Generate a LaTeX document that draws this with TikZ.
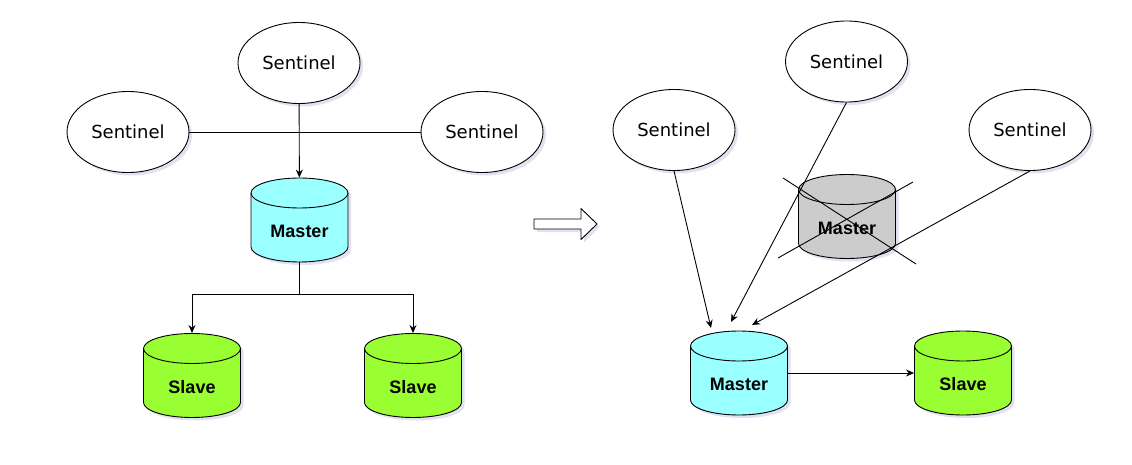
\documentclass[tikz,border=0pt]{standalone}
\usepackage{fontspec}
\setmainfont{DejaVu Sans}
\newfontfamily\dbfont{Liberation Sans}
\usetikzlibrary{arrows.meta,shapes.geometric,shadows}
\definecolor{masterblue}{HTML}{99FFFF}
\definecolor{slavegreen}{HTML}{99FF33}
\definecolor{deadgray}{HTML}{CCCCCC}
% cylinder drawn behind a named text box: name, centre, fill, text
\newcommand\dbnode[4]{%
	\draw[fill=#3,shade] (#2) ++(-48.5pt,27pt) arc[start angle=180,end angle=0,x radius=48.5pt,y radius=15pt]
		-- ++(0pt,-54pt) arc[start angle=0,end angle=-180,x radius=48.5pt,y radius=15pt] -- cycle;
	\draw (#2) ++(-48.5pt,27pt) arc[start angle=180,end angle=360,x radius=48.5pt,y radius=15pt];
	\node[dbbox] (#1) at (#2) {#4};}
\begin{document}
\begin{tikzpicture}[>={Stealth[length=8pt,width=7pt]},line join=round,x=1pt,y=-1pt,line width=0.9pt,
	shade/.style={drop shadow={shadow xshift=3pt,shadow yshift=-3pt,opacity=0.18,fill=blue!30!gray}},
	sent/.style={ellipse,draw,fill=white,shade,minimum width=122pt,minimum height=81pt,inner sep=0pt,font=\fontsize{18}{21}\selectfont},
	dbbox/.style={rectangle,minimum width=97pt,minimum height=84pt,inner sep=0pt,text height=35pt,text depth=0pt,font=\dbfont\bfseries\fontsize{18}{21}\selectfont}]
	\useasboundingbox (0,0) rectangle (1132,465);
	% before
	\node[sent] (sT) at (299,63) {Sentinel};
	\node[sent] (sL) at (128,132) {Sentinel};
	\node[sent] (sR) at (482,132) {Sentinel};
	\dbnode{mA}{299.5,220}{masterblue}{Master}
	\dbnode{vL}{192,375.5}{slavegreen}{Slave}
	\dbnode{vR}{413,375.5}{slavegreen}{Slave}
	\path (299.5,294) coordinate (split);
	\draw (sL)--(sR);
	\draw[->] (sT)--(mA);
	\draw (mA)--(split);
	\draw[->] (split)-|(vL);
	\draw[->] (split)-|(vR);
	% failover
	\draw[fill=white,shade] (534,219)--(581,219)--(581,208.5)--(597,224)--(581,239.5)--(581,229)--(534,229)--cycle;
	% after
	\node[sent] (tL) at (674,130) {Sentinel};
	\node[sent] (tT) at (846.5,61.5) {Sentinel};
	\node[sent] (tR) at (1030,130) {Sentinel};
	\dbnode{old}{847,216.5}{deadgray}{Master}
	\dbnode{mB}{739,373}{masterblue}{Master}
	\dbnode{vB}{963,373}{slavegreen}{Slave}
	\path
	(783,178) coordinate (x1)
	(916,264) coordinate (x2)
	(913,182) coordinate (x3)
	(778,258) coordinate (x4)
	(711,328) coordinate (a1)
	(731,322) coordinate (a2)
	(752,325) coordinate (a3)
	;
	\draw (x1)--(x2) (x3)--(x4);
	\foreach \s/\a in {tL/a1,tT/a2,tR/a3}\draw[->] (\s.south)--(\a);
	\draw[->] (mB)--(vB);
\end{tikzpicture}
\end{document}
